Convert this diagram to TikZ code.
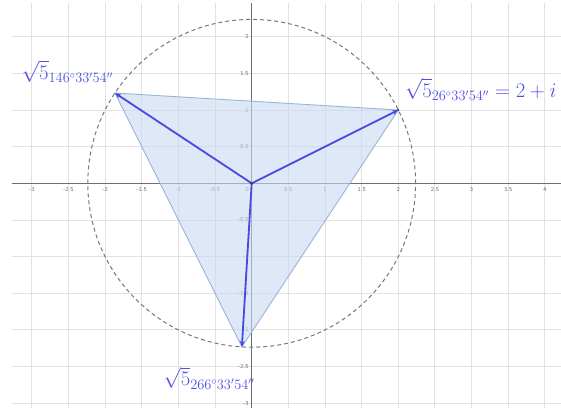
\documentclass[tikz,border=0pt]{standalone}
\usepackage{amsmath}
\usetikzlibrary{arrows.meta}
\definecolor{gridc}{RGB}{226,226,226}
\definecolor{axisc}{RGB}{110,110,110}
\definecolor{tickc}{RGB}{105,105,105}
\definecolor{circc}{RGB}{120,120,120}
\definecolor{trifill}{RGB}{200,217,240}
\definecolor{triedge}{RGB}{150,182,218}
\definecolor{vecc}{RGB}{72,72,226}
\definecolor{labc}{RGB}{80,80,232}
\tikzset{
  gridline/.style={draw=gridc, line width=0.9pt},
  axisline/.style={draw=axisc, line width=0.9pt},
  ticklab/.style={font=\sffamily\fontsize{6}{7}\selectfont, text=tickc, inner sep=0pt},
  vecline/.style={draw=vecc, line width=1.8pt, -{Stealth[length=6pt,width=5pt]}},
  tri/.style={fill=trifill, fill opacity=0.6, draw=triedge, line width=0.9pt},
  circ/.style={draw=circc, line width=1pt, dash pattern=on 4pt off 3pt},
  vlabel/.style={text=labc, font=\fontsize{19.6}{22}\selectfont, anchor=base west, inner sep=0pt},
}
\begin{document}
\begin{tikzpicture}[x=73.3pt,y=73.3pt]
\useasboundingbox (-3.434,-3.052) rectangle (4.220,2.501);
\fill[white] (-3.434,-3.052) rectangle (4.220,2.501);
% grid
\foreach \x in {-3,-2.5,...,4}{\draw[gridline] (\x,-3.06) -- (\x,2.46);}
\foreach \y in {-3,-2.5,...,2}{\draw[gridline] (-3.27,\y) -- (4.23,\y);}
% axes
\draw[axisline] (-3.27,0) -- (4.23,0);
\draw[axisline] (0,2.46) -- (0,-3.06);
% tick labels
\foreach \x in {-3,-2.5,-2,-1.5,-1,-0.5,0.5,1,1.5,2,2.5,3,3.5,4}{
  \node[ticklab] at (\x,-0.09) {\x};}
\node[ticklab] at (-0.06,-0.09) {0};
\foreach \y in {-3,-2.5,-2,-1.5,-1,-0.5,0.5,1,1.5,2}{
  \node[ticklab, anchor=east] at (-0.04,\y) {\y};}
% points
\coordinate (O) at (0,0);
\coordinate (A) at (2,1);
\coordinate (B) at (-1.866,1.232);
\coordinate (C) at (-0.134,-2.232);
% triangle
\draw[tri] (A) -- (B) -- (C) -- cycle;
% circle
\draw[circ] (O) circle (2.236);
% vectors
\draw[vecline] (O) -- (A);
\draw[vecline] (O) -- (B);
\draw[vecline] (O) -- (C);
\fill[black!75] (O) circle (1.6pt);
\fill[black!75] (A) circle (1.2pt);
% labels
\node[vlabel] (LA) at (2.09,1.177) {$\sqrt{5}_{26^\circ 33'54''} = 2+i$};
\node[vlabel] (LB) at (-3.138,1.419) {$\sqrt{5}_{146^\circ 33'54''}$};
\node[vlabel] (LC) at (-1.206,-2.761) {$\sqrt{5}_{266^\circ 33'54''}$};
\end{tikzpicture}
\end{document}
